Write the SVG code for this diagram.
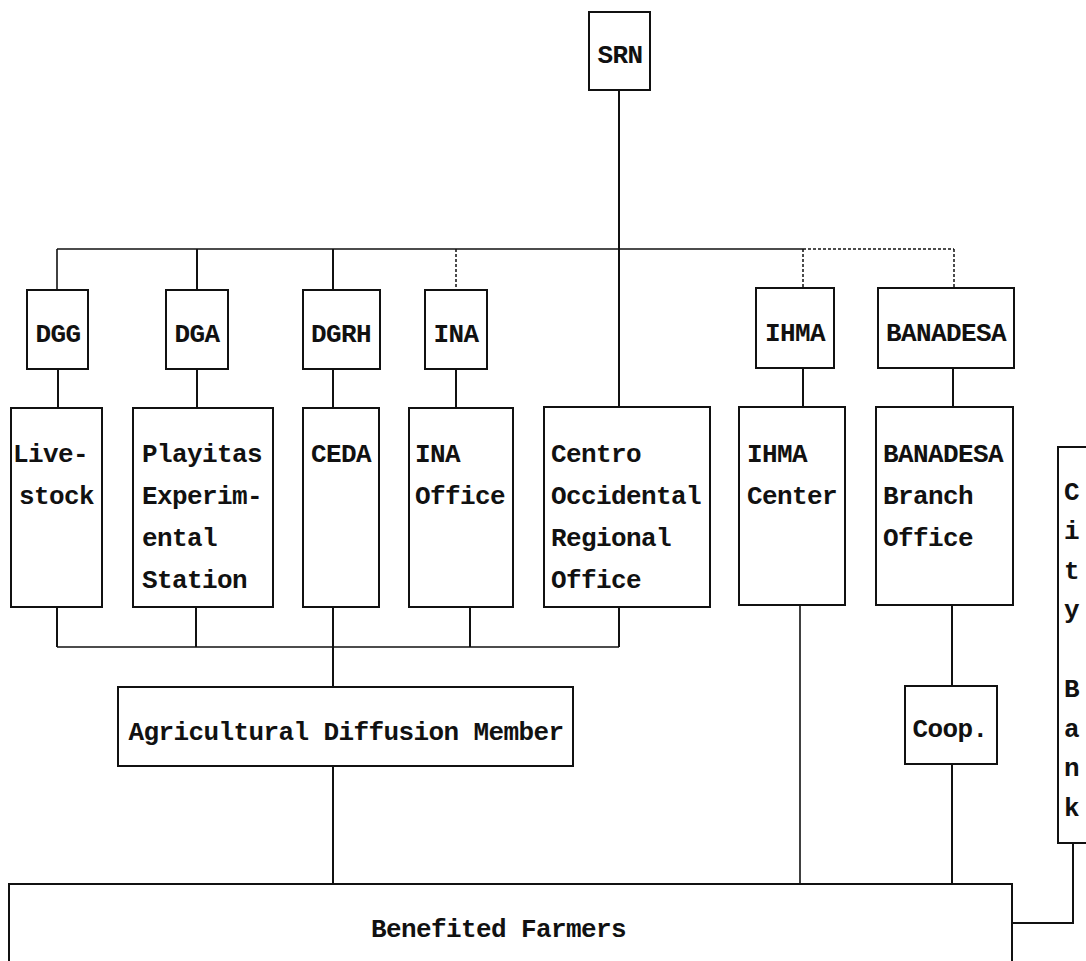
<svg xmlns="http://www.w3.org/2000/svg" width="1086" height="961" viewBox="0 0 1086 961">
<style>
.b{fill:#fff;stroke:#111;stroke-width:2}
.c{fill:none;stroke:#111;stroke-width:2}
.t{fill:none;stroke:#111;stroke-width:1.6}
.d{fill:none;stroke:#111;stroke-width:1.5;stroke-dasharray:3 2}
text{font-family:"Liberation Mono","DejaVu Sans Mono",monospace;font-size:26px;letter-spacing:-0.6px;font-weight:bold;fill:#111}
.m{text-anchor:middle}
</style>
<rect width="1086" height="961" fill="#fff"/>
<g id="connectors">
<path class="c" d="M619,90V407"/>
<path class="t" d="M57,249H803"/>
<path class="d" d="M803,249H954"/>
<path class="t" d="M57,249V290"/>
<path class="c" d="M197,249V290M333,249V290"/>
<path class="d" d="M456,249V290M803,249V288M954,249V288"/>
<path class="c" d="M58,369V408M197,369V408M333,369V408M456,369V408M803,368V407M953,368V407"/>
<path class="c" d="M57,607V647M196,607V647M333,607V647M470,607V647M619,607V647"/>
<path class="t" d="M57,647H619"/>
<path class="c" d="M333,647V687M333,766V884"/>
<path class="t" d="M800,605V884"/>
<path class="c" d="M952,605V686M952,764V884"/>
<path class="c" d="M1073,843V923H1012"/>
</g>
<g id="SRN"><rect class="b" x="589" y="12" width="61" height="78"/><text class="m" x="620" y="63">SRN</text></g>
<g id="DGG"><rect class="b" x="27" y="290" width="61" height="79"/><text class="m" x="58" y="342">DGG</text></g>
<g id="DGA"><rect class="b" x="166" y="290" width="62" height="79"/><text class="m" x="197" y="342">DGA</text></g>
<g id="DGRH"><rect class="b" x="303" y="290" width="77" height="79"/><text class="m" x="341" y="342">DGRH</text></g>
<g id="INA"><rect class="b" x="425" y="290" width="62" height="79"/><text class="m" x="456" y="342">INA</text></g>
<g id="IHMA"><rect class="b" x="756" y="288" width="78" height="80"/><text class="m" x="795" y="341">IHMA</text></g>
<g id="BANADESA"><rect class="b" x="878" y="288" width="136" height="80"/><text class="m" x="946" y="341">BANADESA</text></g>
<g id="Livestock"><rect class="b" x="11" y="408" width="91" height="199"/><text x="13" y="462">Live-</text><text x="19" y="504">stock</text></g>
<g id="Playitas"><rect class="b" x="133" y="408" width="140" height="199"/><text x="142" y="462">Playitas</text><text x="142" y="504">Experim-</text><text x="142" y="546">ental</text><text x="142" y="588">Station</text></g>
<g id="CEDA"><rect class="b" x="303" y="408" width="76" height="199"/><text x="311" y="462">CEDA</text></g>
<g id="INAOffice"><rect class="b" x="409" y="408" width="104" height="199"/><text x="415" y="462">INA</text><text x="415" y="504">Office</text></g>
<g id="Centro"><rect class="b" x="544" y="407" width="166" height="200"/><text x="551" y="462">Centro</text><text x="551" y="504">Occidental</text><text x="551" y="546">Regional</text><text x="551" y="588">Office</text></g>
<g id="IHMACenter"><rect class="b" x="739" y="407" width="106" height="198"/><text x="747" y="462">IHMA</text><text x="747" y="504">Center</text></g>
<g id="BANADESABranch"><rect class="b" x="876" y="407" width="137" height="198"/><text x="883" y="462">BANADESA</text><text x="883" y="504">Branch</text><text x="883" y="546">Office</text></g>
<g id="CityBank"><rect class="b" x="1058" y="447" width="40" height="396"/><text x="1064" y="500">C</text><text x="1064" y="539">i</text><text x="1064" y="579">t</text><text x="1064" y="618">y</text><text x="1064" y="697">B</text><text x="1064" y="737">a</text><text x="1064" y="776">n</text><text x="1064" y="816">k</text></g>
<g id="Agri"><rect class="b" x="118" y="687" width="455" height="79"/><text class="m" x="346" y="740">Agricultural Diffusion Member</text></g>
<g id="Coop"><rect class="b" x="905" y="686" width="92" height="78"/><text class="m" x="950" y="737">Coop.</text></g>
<g id="Benefited"><rect class="b" x="9" y="884" width="1003" height="100"/><text x="371" y="937">Benefited Farmers</text></g>
</svg>
